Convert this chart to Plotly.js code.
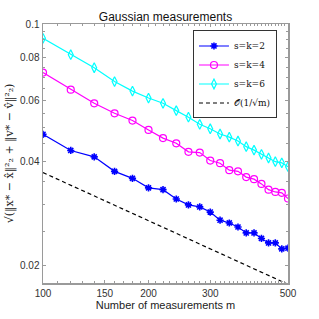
<!DOCTYPE html>
<html>
<head>
<meta charset="utf-8">
<script src="https://cdn.plot.ly/plotly-3.0.1.min.js"></script>
<style>html,body{margin:0;padding:0;background:#fff;}#chart{width:319px;height:319px;}</style>
</head>
<body>
<div id="chart"></div>
<script>
const m = [100,120,140,160,180,200,220,240,260,280,300,320,340,360,380,400,420,440,460,480,500];
const sk2 = [0.0479,0.0430,0.0412,0.0374,0.0357,0.0335,0.0331,0.0311,0.0299,0.0295,0.0285,0.0270,0.0265,0.0258,0.0248,0.0248,0.0239,0.0232,0.0232,0.0223,0.0224];
const sk4 = [0.0723,0.0645,0.0589,0.0551,0.0525,0.0493,0.0467,0.0451,0.0426,0.0424,0.0402,0.0395,0.0377,0.0374,0.0360,0.0355,0.0344,0.0331,0.0326,0.0324,0.0312];
const sk6 = [0.0909,0.0815,0.0747,0.0681,0.0639,0.0610,0.0589,0.0561,0.0537,0.0512,0.0497,0.0480,0.0470,0.0458,0.0441,0.0431,0.0419,0.0409,0.0399,0.0396,0.0386];
const refM = [100,500];
const refV = [0.0371,0.0176];
const xTicks = [100,150,200,300,500];
const xTickText = ['100','150','200','300','500'];
const yTicks = [0.02,0.04,0.06,0.08,0.1];
const yTickText = ['0.02','0.04','0.06','0.08','0.1'];
const names = ['s=k=2','s=k=4','s=k=6','𝒪(1/√m)'];

const xMinor = []; for (let v = 100; v <= 500; v += 10) xMinor.push(v);
const yMinor = []; for (let i = 4; i <= 20; i++) yMinor.push(i * 0.005);

const serif = 'DejaVu Serif, Liberation Serif, serif';
const sans = 'Liberation Sans, Arial, sans-serif';

const traces = [
  {x: m, y: sk2, name: names[0], mode: 'lines+markers', line: {color: '#0000ff', width: 1.2},
   marker: {symbol: 'asterisk-open', size: 6, color: '#0000ff', line: {color: '#0000ff', width: 1.6}}},
  {x: m, y: sk4, name: names[1], mode: 'lines+markers', line: {color: '#ff00ff', width: 1.2},
   marker: {symbol: 'circle-open', size: 7, color: '#ff00ff', line: {color: '#ff00ff', width: 1.2}}},
  {x: m, y: sk6, name: names[2], mode: 'lines+markers', line: {color: '#00ffff', width: 1.2},
   marker: {symbol: 'diamond-tall-open', size: 7, color: '#00ffff', line: {color: '#00ffff', width: 1.2}}},
  {x: refM, y: refV, name: names[3], mode: 'lines', line: {color: '#000000', width: 1.2, dash: '4px,3px'}}
];

const axisCommon = {
  type: 'log', showgrid: false, zeroline: false, showline: true, linecolor: '#9a9a9a', linewidth: 1.5,
  mirror: 'ticks', ticks: 'inside', ticklen: 3, tickcolor: '#9a9a9a', tickwidth: 1,
  tickfont: {family: sans, size: 10, color: '#333333'}
};

const layout = {
  width: 319, height: 319,
  margin: {l: 43, r: 31, t: 24, b: 36},
  paper_bgcolor: '#ffffff', plot_bgcolor: '#ffffff',
  showlegend: true,
  title: {text: 'Gaussian measurements', font: {family: sans, size: 12, color: '#111111'},
    x: 0.5, xref: 'paper', xanchor: 'center', y: 1, yref: 'paper', yanchor: 'bottom', pad: {b: 3}},
  xaxis: Object.assign({}, axisCommon, {
    range: [2, Math.log10(500)], tickmode: 'array', tickvals: xTicks, ticktext: xTickText,
    minor: {tickmode: 'array', tickvals: xMinor, ticks: 'inside', ticklen: 2, tickcolor: '#9a9a9a', showgrid: false},
    title: {text: 'Number of measurements m', font: {family: sans, size: 11, color: '#222222'}, standoff: 4}
  }),
  yaxis: Object.assign({}, axisCommon, {
    range: [-1.7507, -1], tickmode: 'array', tickvals: yTicks, ticktext: yTickText,
    minor: {tickmode: 'array', tickvals: yMinor, ticks: 'inside', ticklen: 2, tickcolor: '#9a9a9a', showgrid: false},
    title: {text: '√(‖x* − x̂‖²₂ + ‖v* − v̂‖²₂)', font: {family: serif, size: 11, color: '#222222'}, standoff: 4}
  }),
  legend: {x: 0.955, y: 0.975, xanchor: 'right', yanchor: 'top', bgcolor: '#ffffff', bordercolor: '#333333', borderwidth: 1,
    font: {family: serif, size: 9, color: '#111111'}, itemwidth: 30, tracegroupgap: 0}
};

Plotly.newPlot('chart', traces, layout, {displayModeBar: false, staticPlot: true});
</script>
</body>
</html>
